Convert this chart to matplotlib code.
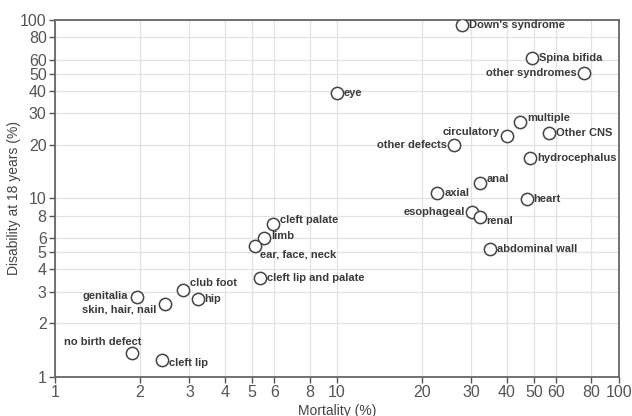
import matplotlib.pyplot as plt
from matplotlib.ticker import FixedLocator, FixedFormatter, NullLocator

plt.rcParams['font.family'] = ['Liberation Sans', 'DejaVu Sans']

# data (percent)
labels = ["Down's syndrome", 'Spina bifida', 'other syndromes', 'eye', 'multiple',
          'circulatory', 'Other CNS', 'other defects', 'hydrocephalus', 'anal',
          'axial', 'heart', 'esophageal', 'renal', 'abdominal wall', 'cleft palate',
          'limb', 'ear, face, neck', 'cleft lip and palate', 'club foot', 'hip',
          'genitalia', 'skin, hair, nail', 'no birth defect', 'cleft lip']
mortality = [27.7, 49.4, 75.3, 10.0, 44.8, 40.2, 56.5, 26.0, 48.6, 32.1,
             22.7, 47.1, 30.2, 32.1, 34.9, 5.94, 5.53, 5.12, 5.33, 2.85, 3.21,
             1.95, 2.45, 1.88, 2.40]
disability = [93.8, 61.5, 50.3, 39.1, 26.7, 22.4, 23.2, 19.9, 16.9, 12.2,
              10.7, 9.9, 8.36, 7.9, 5.2, 7.16, 6.02, 5.43, 3.56, 3.06, 2.72,
              2.79, 2.55, 1.35, 1.24]
ticks = [1, 2, 3, 4, 5, 6, 8, 10, 20, 30, 40, 50, 60, 80, 100]

# label placement: (dx, dy in points, ha)
offsets = {
    "Down's syndrome": (5, 0, 'left'), 'Spina bifida': (5, 0, 'left'),
    'other syndromes': (-5, 0, 'right'), 'eye': (5, 0, 'left'),
    'multiple': (5, 3, 'left'), 'circulatory': (-5, 3, 'right'),
    'Other CNS': (5, 0, 'left'), 'other defects': (-5, 0, 'right'),
    'hydrocephalus': (5, 0, 'left'), 'anal': (5, 3, 'left'),
    'axial': (5, 0, 'left'), 'heart': (5, 0, 'left'),
    'esophageal': (-5, 0, 'right'), 'renal': (5, -3, 'left'),
    'abdominal wall': (5, 0, 'left'), 'cleft palate': (5, 3, 'left'),
    'limb': (5, 1, 'left'), 'ear, face, neck': (4, -6, 'left'),
    'cleft lip and palate': (5, 0, 'left'), 'club foot': (5, 5, 'left'),
    'hip': (5, 0, 'left'), 'genitalia': (-6, 1, 'right'),
    'skin, hair, nail': (-6, -4, 'right'), 'no birth defect': (7, 8, 'right'),
    'cleft lip': (5, -2, 'left'),
}

fig = plt.figure(figsize=(6.32, 4.16), dpi=100)
ax = fig.add_axes([0.087, 0.0945, 0.892, 0.857])
ax.set_xscale('log')
ax.set_yscale('log')
ax.set_xlim(1, 100)
ax.set_ylim(1, 100)

ax.scatter(mortality, disability, s=78, facecolors='white', edgecolors='#444444',
           linewidths=1.1, zorder=3)
for lab, xv, yv in zip(labels, mortality, disability):
    dx, dy, ha = offsets[lab]
    ax.annotate(lab, (xv, yv), xytext=(dx, dy), textcoords='offset points',
                ha=ha, va='center', fontsize=8, fontweight='bold', color='#3a3a3a',
                zorder=4)

for axis in (ax.xaxis, ax.yaxis):
    axis.set_major_locator(FixedLocator(ticks))
    axis.set_major_formatter(FixedFormatter([str(t) for t in ticks]))
    axis.set_minor_locator(NullLocator())
ax.tick_params(labelsize=11.5, labelcolor='#555555', color='#555555', length=4,
               width=1, pad=2)
ax.grid(True, color='#e2e2e2', linewidth=0.9, zorder=0)
ax.set_axisbelow(True)
for sp in ax.spines.values():
    sp.set_color('#666666')
    sp.set_linewidth(1.3)

ax.set_xlabel('Mortality (%)', fontsize=10, color='#444444')
ax.set_ylabel('Disability at 18 years (%)', fontsize=10, color='#444444')
ax.xaxis.set_label_coords(0.5, -0.077)
ax.yaxis.set_label_coords(-0.061, 0.5)

fig.savefig('out.png', dpi=100, facecolor='white')
